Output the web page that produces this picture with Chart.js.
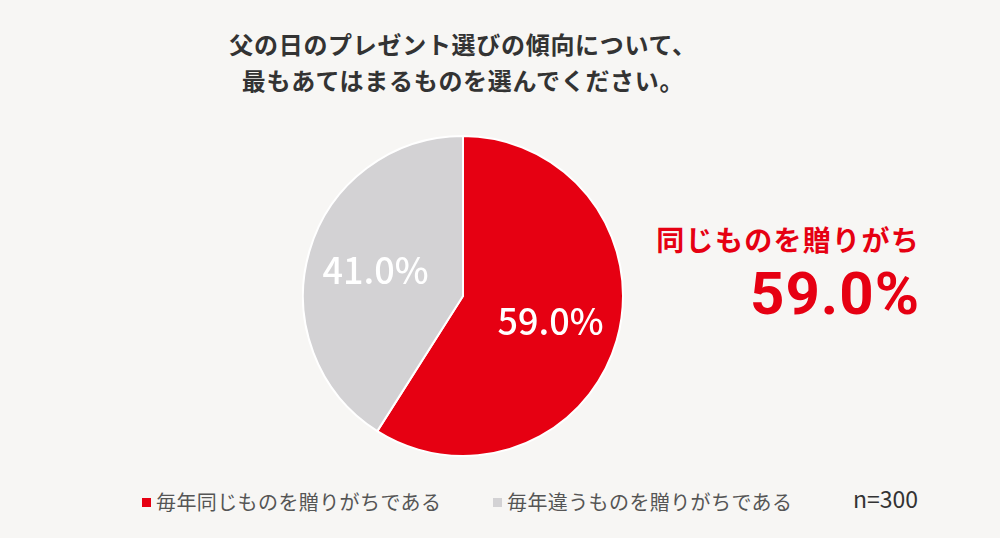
<!DOCTYPE html>
<html lang="ja">
<head>
<meta charset="utf-8">
<script src="https://cdn.jsdelivr.net/npm/chart.js@4"></script>
<style>
  html, body { margin: 0; padding: 0; }
  body {
    width: 1000px; height: 538px; overflow: hidden; position: relative;
    background: #f7f6f4;
    font-family: "Noto Sans CJK JP", "Noto Sans", sans-serif;
  }
  .title {
    position: absolute; left: 113px; width: 700px; top: 26px;
    text-align: center; color: #333; font-size: 24px; font-weight: 700;
    line-height: 36px; letter-spacing: 0.7px;
  }
  .chart-box { position: absolute; left: 302px; top: 135px; width: 322px; height: 322px; }
  .callout { position: absolute; right: 80px; top: 220px; color: #e60012; text-align: right; font-weight: 700; }
  .callout .lead { font-size: 28px; line-height: 38px; letter-spacing: 1.3px; }
  .callout .big { font-family: Roboto, "Noto Sans", sans-serif; font-size: 60px; line-height: 60px; letter-spacing: 1px; margin-top: 6px; }
  .legend { position: absolute; top: 487px; left: 0; width: 1000px; height: 30px; color: #555; font-size: 20px; letter-spacing: 0.4px; }
  .legend span { position: absolute; white-space: nowrap; }
  .legend i { display: inline-block; width: 9px; height: 9px; margin-right: 5px; vertical-align: 3px; }
</style>
</head>
<body>
<div class="title">父の日のプレゼント選びの傾向について、<br>最もあてはまるものを選んでください。</div>
<div class="chart-box"><canvas id="pieChart"></canvas></div>
<div class="callout">
  <div class="lead">同じものを贈りがち</div>
  <div class="big">59.0%</div>
</div>
<div class="legend" id="legend"></div>

<script>
'use strict';

// Data
const categories = ['毎年同じものを贈りがちである', '毎年違うものを贈りがちである'];
const shares = [59.0, 41.0];
const sliceColors = ['#e60012', '#d3d2d4'];
const sampleNote = 'n=300';

// Percent labels inside the slices
const sliceLabels = {
    id: 'sliceLabels',
    afterDatasetsDraw(chart) {
        const { ctx } = chart;
        const meta = chart.getDatasetMeta(0);
        ctx.save();
        ctx.fillStyle = '#ffffff';
        ctx.font = '500 36px "Noto Sans CJK JP", "Noto Sans", sans-serif';
        ctx.textAlign = 'center';
        ctx.textBaseline = 'middle';
        meta.data.forEach((arc, i) => {
            const p = arc.getProps(['x', 'y', 'startAngle', 'endAngle', 'outerRadius'], true);
            const mid = (p.startAngle + p.endAngle) / 2;
            const r = p.outerRadius * 0.57;
            ctx.fillText(shares[i].toFixed(1) + '%', p.x + Math.cos(mid) * r, p.y + Math.sin(mid) * r);
        });
        ctx.restore();
    }
};

new Chart(document.getElementById('pieChart'), {
    type: 'pie',
    data: {
        labels: categories,
        datasets: [{
            data: shares,
            backgroundColor: sliceColors,
            borderColor: '#ffffff',
            borderWidth: 2
        }]
    },
    options: {
        responsive: true,
        maintainAspectRatio: false,
        animation: false,
        layout: { padding: 0 },
        plugins: {
            legend: { display: false },
            tooltip: { enabled: false }
        }
    },
    plugins: [sliceLabels]
});

// Legend row
const legend = document.getElementById('legend');
const legendX = [142, 493];
categories.forEach((name, i) => {
    const item = document.createElement('span');
    item.style.left = legendX[i] + 'px';
    item.innerHTML = `<i style="background:${sliceColors[i]}"></i>${name}`;
    legend.appendChild(item);
});
const note = document.createElement('span');
note.style.left = '853px';
note.style.fontSize = '23px';
note.style.top = '-6px';
note.style.color = '#333';
note.style.letterSpacing = '0';
note.textContent = sampleNote;
legend.appendChild(note);
</script>
</body>
</html>
